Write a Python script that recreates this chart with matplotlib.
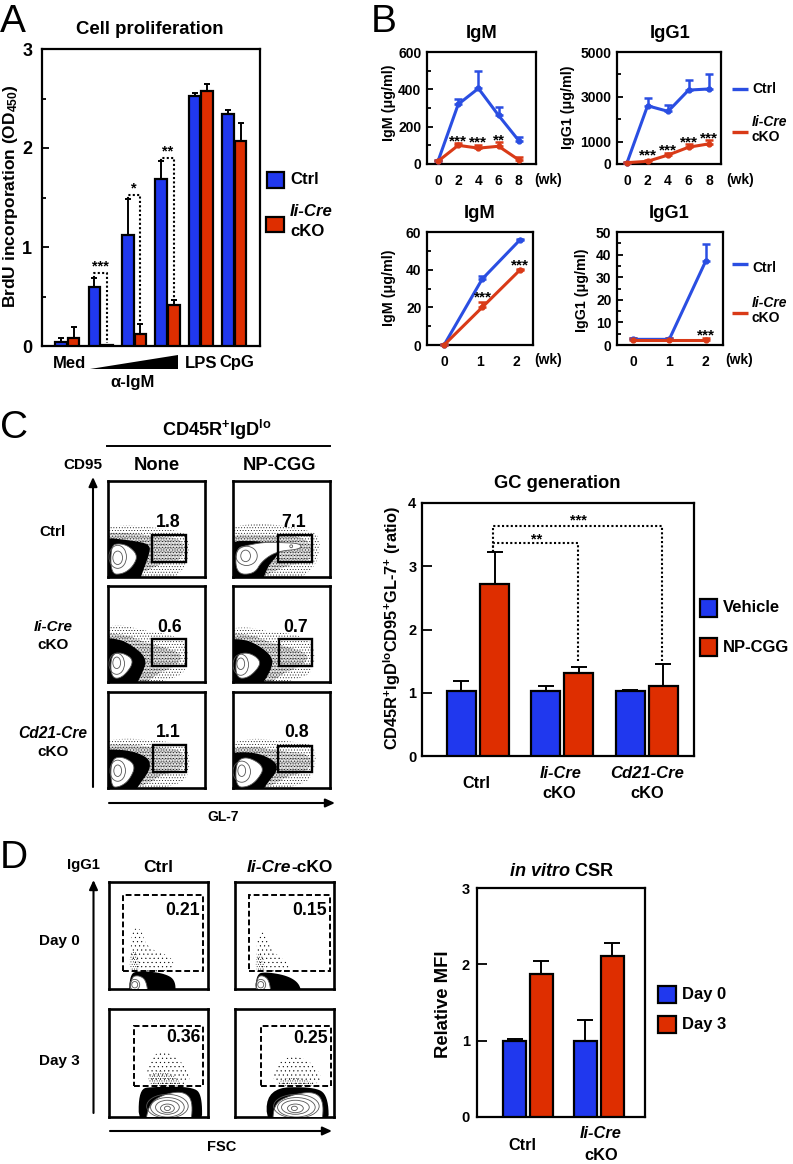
import matplotlib
matplotlib.use("Agg")
import numpy as np
import matplotlib.pyplot as plt
from matplotlib.patches import Polygon, Rectangle, Ellipse

W, H = 793, 1164
plt.rcParams['font.family'] = ['Liberation Sans', 'DejaVu Sans']
plt.rcParams['font.weight'] = 'bold'
plt.rcParams['mathtext.fontset'] = 'custom'
plt.rcParams['mathtext.rm'] = 'Liberation Sans:bold'
plt.rcParams['mathtext.it'] = 'Liberation Sans:italic:bold'
plt.rcParams['mathtext.bf'] = 'Liberation Sans:bold'
plt.rcParams['hatch.linewidth'] = 0.3

BLUE = '#2038ee'
RED = '#de2e00'
LBLUE = '#2a4ee2'
LRED = '#d93a17'

# panel A
a_groups = ['Med', 'a1', 'a2', 'a3', 'LPS', 'CpG']
a_ctrl = [0.04, 0.60, 1.12, 1.69, 2.53, 2.34]
a_ctrl_top = [0.08, 0.69, 1.48, 1.87, 2.56, 2.38]
a_cko = [0.08, 0.01, 0.12, 0.41, 2.58, 2.07]
a_cko_top = [0.19, 0.01, 0.22, 0.46, 2.65, 2.25]
a_sig = [(1, 0.74, 0.03, '***'), (2, 1.53, 0.22, '*'), (3, 1.90, 0.47, '**')]

# panel B
wk = [0, 2, 4, 6, 8]
igm_ctrl = [15, 320, 405, 260, 125]
igm_ctrl_top = [22, 350, 500, 305, 145]
igm_cko = [15, 100, 85, 95, 22]
igm_cko_top = [20, 110, 100, 120, 35]
igm_stars = [(2, 122, '***'), (4, 115, '***'), (6, 125, '**')]
igg_ctrl = [60, 2600, 2350, 3300, 3350]
igg_ctrl_top = [100, 2950, 2650, 3750, 4000]
igg_cko = [60, 120, 400, 750, 900]
igg_cko_top = [100, 180, 480, 900, 1050]
igg_stars = [(2, 400, '***'), (4, 600, '***'), (6, 950, '***'), (8, 1130, '***')]
wk2 = [0, 1.05, 2.1]
wk2b = [0, 1, 2]
igm2_ctrl = [0, 35, 56]
igm2_ctrl_top = [0.5, 36.5, 56.5]
igm2_cko = [0, 20, 40]
igm2_cko_top = [0.5, 23, 40.5]
igm2_stars = [(1.08, 25, '***'), (2.1, 42, '***')]
igg2_ctrl = [2.5, 2.5, 37]
igg2_ctrl_top = [3, 3, 44.5]
igg2_cko = [2, 2, 2]
igg2_cko_top = [3, 3, 3]
igg2_stars = [(2.0, 4, '***')]

# panel C bars
c_groups = [0, 1, 2]
c_veh = [1.02, 1.02, 1.02]
c_veh_top = [1.18, 1.10, 1.05]
c_np = [2.72, 1.32, 1.10]
c_np_top = [3.22, 1.40, 1.46]

# panel D bars
d_groups = [0, 1]
d_day0 = [0.99, 0.99]
d_day0_top = [1.02, 1.27]
d_day3 = [1.87, 2.11]
d_day3_top = [2.05, 2.28]

c_labels = ['1.8', '7.1', '0.6', '0.7', '1.1', '0.8']
c_label_xy = [(62, 57), (62, 57), (63, 57), (64, 57), (62, 58), (66, 58)]
c_gates = [(45, 80, 16, 44), (46, 81, 16, 44), (45, 80, 17, 45),
           (47, 81, 17, 45), (46, 80, 17, 45), (46, 81, 17, 44)]
c_sparse = [
    [(0, 50), (15, 54), (35, 53), (60, 50), (82, 46), (84, 25), (78, 6), (50, 0), (0, 0)],
    [(0, 50), (20, 56), (50, 54), (80, 48), (90, 42), (88, 18), (78, 4), (50, 0), (0, 0)],
    [(0, 56), (14, 60), (35, 54), (62, 50), (82, 42), (82, 14), (70, 3), (0, 0)],
    [(0, 54), (14, 58), (38, 52), (65, 50), (84, 40), (84, 14), (72, 3), (0, 0)],
    [(0, 48), (18, 52), (40, 50), (65, 48), (84, 42), (84, 14), (72, 2), (0, 0)],
    [(0, 44), (18, 52), (40, 50), (65, 48), (86, 44), (84, 14), (70, 2), (0, 0)],
]
c_dense = [
    [(0, 46), (25, 46), (50, 42), (78, 40), (78, 18), (55, 14), (40, 6), (0, 0)],
    [(0, 44), (30, 44), (80, 42), (82, 16), (55, 12), (38, 3), (0, 0)],
    [(0, 50), (18, 50), (35, 42), (60, 36), (78, 28), (70, 16), (48, 8), (30, 0), (0, 0)],
    [(0, 50), (18, 50), (35, 42), (60, 36), (80, 28), (70, 16), (48, 8), (30, 0), (0, 0)],
    [(0, 44), (20, 46), (50, 42), (78, 40), (78, 18), (55, 14), (42, 4), (0, 0)],
    [(0, 40), (20, 44), (50, 38), (80, 36), (80, 18), (55, 12), (42, 3), (0, 0)],
]
c_core = [
    [(0, 42), (25, 38), (44, 34), (42, 22), (38, 12), (30, 0), (0, 0)],
    [(0, 37), (30, 38), (46, 30), (46, 22), (36, 12), (28, 0), (0, 0)],
    [(0, 46), (12, 45), (28, 36), (40, 24), (36, 10), (24, 0), (0, 0)],
    [(0, 44), (12, 45), (30, 36), (42, 24), (38, 10), (24, 0), (0, 0)],
    [(0, 40), (20, 40), (42, 32), (44, 20), (34, 6), (22, 0), (0, 0)],
    [(0, 36), (22, 38), (44, 28), (46, 18), (36, 6), (24, 0), (0, 0)],
]
c_blob = [
    [(3, 33), (12, 35), (22, 32), (31, 22), (25, 10), (15, 3), (3, 3)],
    [(3, 30), (15, 33), (30, 36), (46, 36), (70, 35), (70, 29), (46, 27), (30, 17), (22, 3), (3, 3)],
    [(3, 29), (15, 31), (28, 22), (15, 4), (3, 4)],
    [(3, 28), (14, 31), (25, 26), (29, 18), (16, 4), (3, 4)],
    [(3, 30), (15, 33), (29, 24), (22, 8), (12, 1), (3, 1)],
    [(3, 28), (15, 33), (33, 22), (25, 8), (15, 1), (3, 1)],
]
c_rings = [
    [(10, 20, 10, 14), (10, 21, 18, 24)],
    [(13, 22, 10, 12), (14, 22, 22, 20), (60, 32, 3, 3)],
    [(9, 20, 8, 12), (9, 19, 16, 22)],
    [(8, 19, 8, 12), (8, 18, 16, 22)],
    [(10, 18, 8, 12), (10, 18, 16, 22)],
    [(9, 18, 8, 12), (9, 17, 18, 22)],
]

d_labels = ['0.21', '0.15', '0.36', '0.25']
d_label_xy = [(74, 73), (75, 73), (75, 74), (76, 73)]
d_gates = [(14, 95, 16.5, 88), (14, 96, 16.5, 88), (25, 95, 29, 84), (26, 97, 29, 84)]
d_sparse = [
    [(22, 16), (22, 55), (32, 58), (38, 38), (65, 30), (65, 16)],
    [(22, 16), (22, 52), (30, 54), (36, 36), (55, 24), (55, 16)],
    [(37, 29), (40, 55), (56, 62), (76, 50), (85, 29)],
    [(36, 29), (42, 50), (60, 58), (82, 48), (90, 29)],
]
d_dense = [
    [(21, 14), (21, 34), (28, 36), (32, 16)],
    [(21, 14), (21, 32), (28, 34), (31, 16)],
    [(38, 28), (42, 42), (62, 42), (76, 28)],
    [(40, 28), (48, 36), (70, 36), (84, 28)],
]
d_core = [
    [(20, 0), (21, 14), (30, 17), (55, 15), (68, 8), (66, 0)],
    [(21, 0), (21, 14), (32, 16), (55, 12), (67, 3), (66, 0)],
    [(30, 0), (30, 26), (45, 28), (85, 28), (94, 20), (94, 0)],
    [(32, 0), (32, 27), (80, 28), (94, 20), (95, 0)],
]
d_blob = [
    [(21, 0), (22, 11), (30, 13), (38, 8), (40, 0)],
    [(21, 0), (22, 11), (28, 13), (35, 8), (37, 0)],
    [(36, 0), (40, 12), (55, 21), (75, 24), (85, 15), (82, 0)],
    [(38, 0), (39, 12), (55, 20), (80, 24), (90, 14), (87, 0)],
]
d_rings = [
    [(26, 4, 6, 6), (26, 4, 10, 10)],
    [(26, 4, 6, 6), (26, 4, 10, 10)],
    [(59, 8, 6, 4), (59, 8, 14, 8), (59, 9, 24, 13), (59, 9, 34, 18), (59, 10, 42, 22)],
    [(60, 8, 6, 4), (61, 8, 16, 8), (61, 9, 28, 13), (62, 9, 38, 18), (62, 10, 46, 22)],
]


def px_axes(l, t, r, b):
    return fig.add_axes([l / W, 1 - b / H, (r - l) / W, (b - t) / H])


def frame(ax, lw=1.6):
    for s in ax.spines.values():
        s.set_linewidth(lw)


def T(x, y, s, size=11, ha='center', va='center', **kw):
    ov.text(x, y, s, fontsize=size, ha=ha, va=va, **kw)


def err(vals, tops):
    return [np.zeros(len(vals)), np.array(tops) - np.array(vals)]


def grouped_bars(ax, x, v1, t1, v2, t2, off, width, cap):
    x = np.array(x, dtype=float)
    for xs, v, t, col in [(x - off, v1, t1, BLUE), (x + off, v2, t2, RED)]:
        ax.bar(xs, v, width, color=col, edgecolor='k', linewidth=1.6, zorder=3)
        ax.errorbar(xs, v, yerr=err(v, t), fmt='none', ecolor='k', elinewidth=1.4,
                    capsize=cap, capthick=1.4, zorder=2)


def dotted(ax, xs, ys):
    ax.plot(xs, ys, color='k', lw=1.5, ls=(0, (1, 1.1)), zorder=4, clip_on=False)


def line_panel(box, xlim, ymax, major, minor, xs, xticks, c, ct, k, kt, stars):
    ax = px_axes(*box)
    frame(ax)
    for vals, tops, col in [(c, ct, LBLUE), (k, kt, LRED)]:
        ax.errorbar(xs, vals, yerr=err(vals, tops), color=col, lw=2.2, marker='o', ms=3.5,
                    elinewidth=1.8, capsize=3, capthick=1.8, clip_on=False, zorder=3)
    for x, y, s in stars:
        ax.text(x, y, s, ha='center', va='center', fontsize=11, zorder=5)
    ax.set_xlim(*xlim)
    ax.set_ylim(0, ymax)
    ax.set_xticks(xticks)
    ax.set_yticks(major)
    ax.set_yticks(minor, minor=True)
    ax.tick_params(axis='x', length=0, pad=7, labelsize=10)
    ax.tick_params(axis='y', direction='in', length=4, width=1.3, pad=4, labelsize=10)
    ax.tick_params(axis='y', which='minor', direction='in', length=3, width=1.3)
    return ax


def smooth(pts, n=3):
    # round the read-off outline by corner cutting, edge points pushed past the frame
    p = np.array(pts, dtype=float)
    p[p == 0] = -12
    for _ in range(n):
        q = np.roll(p, -1, axis=0)
        p = np.column_stack([0.75 * p + 0.25 * q, 0.25 * p + 0.75 * q]).reshape(-1, 2)
    return p


def flow_panel(box, sparse, dense, core, blob, rings, gate, label, label_xy, dashed=False,
               hatch_sparse='......', hatch_dense='............'):
    ax = px_axes(*box)
    frame(ax, 1.9)
    ax.set_xlim(0, 100)
    ax.set_ylim(0, 100)
    ax.set_xticks([])
    ax.set_yticks([])
    ax.add_patch(Polygon(smooth(sparse), closed=True, fill=False, hatch=hatch_sparse, edgecolor='k', lw=0, zorder=1))
    ax.add_patch(Polygon(smooth(dense), closed=True, fill=False, hatch=hatch_dense, edgecolor='k', lw=0, zorder=1))
    ax.add_patch(Polygon(smooth(core), closed=True, facecolor='k', edgecolor='none', zorder=2))
    ax.add_patch(Polygon(smooth(blob), closed=True, facecolor='w', edgecolor='#555555', lw=0.6, zorder=3))
    for cx, cy, w, h in rings:
        ax.add_patch(Ellipse((cx, cy), w, h, fill=False, edgecolor='#555555', lw=0.6, zorder=4))
    x0, x1, y0, y1 = gate
    ax.add_patch(Rectangle((x0, y0), x1 - x0, y1 - y0, fill=False, edgecolor='k', zorder=5,
                           lw=1.4 if dashed else 1.7, ls=(0, (3, 1.5)) if dashed else '-'))
    ax.text(label_xy[0], label_xy[1], label, ha='center', va='center', fontsize=12.7, zorder=6)


def swatch(x0, y0, x1, y1, col):
    ov.add_patch(Rectangle((x0, y0), x1 - x0, y1 - y0, facecolor=col, edgecolor='k', lw=1.6))


fig = plt.figure(figsize=(W / 100, H / 100), dpi=100)

# A
ax = px_axes(42, 49, 260, 346)
frame(ax)
xa = np.arange(len(a_groups))
grouped_bars(ax, xa, a_ctrl, a_ctrl_top, a_cko, a_cko_top, 0.19, 0.345, 2.4)
for g, top, low, s in a_sig:
    dotted(ax, [g - 0.19, g - 0.19, g + 0.19, g + 0.19], [a_ctrl_top[g], top, top, low])
    ax.text(g, top + 0.06, s, ha='center', va='center', fontsize=10.5, zorder=5)
ax.set_xlim(-0.76, 5.77)
ax.set_ylim(0, 3)
ax.set_xticks([])
ax.set_yticks([0, 1, 2, 3])
ax.set_yticks([0.5, 1.5, 2.5], minor=True)
ax.tick_params(axis='y', direction='in', length=5, width=1.3, pad=7, labelsize=13)
ax.tick_params(axis='y', which='minor', direction='in', length=3, width=1.3)

# B
line_panel((427, 52, 536, 164), (-1.09, 9.7), 600, [0, 200, 400, 600], [100, 300, 500], wk, wk,
           igm_ctrl, igm_ctrl_top, igm_cko, igm_cko_top, igm_stars)
line_panel((617, 52, 721, 164), (-0.98, 9.16), 5000, [0, 1000, 3000, 5000], [2000, 4000], wk, wk,
           igg_ctrl, igg_ctrl_top, igg_cko, igg_cko_top, igg_stars)
line_panel((427, 232, 533, 345), (-0.47, 2.45), 60, [0, 20, 40, 60], [10, 30, 50], wk2, wk2b,
           igm2_ctrl, igm2_ctrl_top, igm2_cko, igm2_cko_top, igm2_stars)
line_panel((617, 232, 723, 345), (-0.44, 2.48), 50, [0, 10, 20, 30, 40, 50], [5, 15, 25, 35, 45], wk2b, wk2b,
           igg2_ctrl, igg2_ctrl_top, igg2_cko, igg2_cko_top, igg2_stars)

# C flow
c_cols = [(108, 205), (233, 330)]
c_rows = [(481, 577), (586, 682), (692, 788)]
for i in range(6):
    cl, cr = c_cols[i % 2]
    rt, rb = c_rows[i // 2]
    flow_panel((cl, rt, cr, rb), c_sparse[i], c_dense[i], c_core[i], c_blob[i], c_rings[i],
               c_gates[i], c_labels[i], c_label_xy[i])

# C bars
ax = px_axes(422, 503, 694, 756)
frame(ax)
grouped_bars(ax, c_groups, c_veh, c_veh_top, c_np, c_np_top, 0.197, 0.343, 5.5)
dotted(ax, [0.18, 0.18, 1.18, 1.18], [3.22, 3.36, 3.36, 1.5])
dotted(ax, [0.18, 0.18, 2.18, 2.18], [3.22, 3.63, 3.63, 1.5])
ax.text(0.69, 3.42, '**', ha='center', va='center', fontsize=10.5, zorder=5)
ax.text(1.19, 3.72, '***', ha='center', va='center', fontsize=10.5, zorder=5)
ax.set_xlim(-0.663, 2.56)
ax.set_ylim(0, 4)
ax.set_xticks([])
ax.set_yticks([0, 1, 2, 3, 4])
ax.tick_params(axis='y', direction='in', length=7, width=1.3, pad=4, labelsize=10.5)

# D flow
d_cols = [(109, 208), (235, 334)]
d_rows = [(882, 989), (1009, 1117)]
for i in range(4):
    cl, cr = d_cols[i % 2]
    rt, rb = d_rows[i // 2]
    flow_panel((cl, rt, cr, rb), d_sparse[i], d_dense[i], d_core[i], d_blob[i], d_rings[i],
               d_gates[i], d_labels[i], d_label_xy[i], dashed=True,
               hatch_sparse='....', hatch_dense='.......')

# D bars
ax = px_axes(477, 888, 645, 1117)
frame(ax)
grouped_bars(ax, d_groups, d_day0, d_day0_top, d_day3, d_day3_top, 0.19, 0.33, 5.5)
ax.set_xlim(-0.722, 1.654)
ax.set_ylim(0, 3)
ax.set_xticks([])
ax.set_yticks([0, 1, 2, 3])
ax.tick_params(axis='y', direction='in', length=7, width=1.3, pad=5, labelsize=10.5)

# overlay in pixel coordinates for all loose text
ov = fig.add_axes([0, 0, 1, 1], zorder=10)
ov.set_xlim(0, W)
ov.set_ylim(H, 0)
ov.axis('off')

for s, x, y in [('A', 13, 22), ('B', 384, 22), ('C', 14, 428), ('D', 14, 858)]:
    T(x, y, s, size=28, weight='normal')

T(150, 30, 'Cell proliferation', 13.4)
T(11, 196, r'BrdU incorporation (OD$_{450}$)', 12.5, rotation=90)
T(69, 363, 'Med', 12)
T(201, 363, 'LPS', 12)
T(237, 363, 'CpG', 12)
T(133, 383, '\u03b1-IgM', 12)
ov.add_patch(Polygon([(90, 369), (178, 355), (178, 369)], closed=True, facecolor='k', edgecolor='none'))
swatch(267, 172, 284, 188, BLUE)
swatch(266, 217, 284, 232, RED)
T(290, 180, 'Ctrl', 12.1, ha='left')
T(290, 212, 'Ii-Cre', 12.1, ha='left', style='italic')
T(290, 231, 'cKO', 12.1, ha='left')

T(482, 33, 'IgM', 13.2)
T(670, 33, 'IgG1', 13.2)
T(480, 214, 'IgM', 13.2)
T(669, 214, 'IgG1', 13.2)
T(389, 103, 'IgM (\u03bcg/ml)', 10.3, rotation=90)
T(568, 107, 'IgG1 (\u03bcg/ml)', 10.3, rotation=90)
T(389, 288, 'IgM (\u03bcg/ml)', 10.3, rotation=90)
T(582, 290, 'IgG1 (\u03bcg/ml)', 10.3, rotation=90)
T(548, 180, '(wk)', 10)
T(740, 180, '(wk)', 10)
T(548, 360, '(wk)', 10)
T(739, 360, '(wk)', 10)
for y_blue, y_red, y_ctrl, y_ii, y_cko in [(89, 132, 89, 122, 137), (264, 313, 268, 303, 318)]:
    ov.plot([732, 748], [y_blue, y_blue], color=LBLUE, lw=2.4, solid_capstyle='butt')
    ov.plot([732, 748], [y_red, y_red], color=LRED, lw=2.4, solid_capstyle='butt')
    T(752, y_ctrl, 'Ctrl', 10, ha='left')
    T(752, y_ii, 'Ii-Cre', 10, ha='left', style='italic')
    T(752, y_cko, 'cKO', 10, ha='left')

T(217, 430, r'CD45R$^{+}$IgD$^{\mathrm{lo}}$', 13.1)
ov.plot([107, 330], [446, 446], color='k', lw=1.4)
T(157, 465, 'None', 13.2)
T(280, 465, 'NP-CGG', 13.2)
T(83, 465, 'CD95', 11)
T(223, 817, 'GL-7', 10)
T(53, 532, 'Ctrl', 11)
T(53, 627, 'Ii-Cre', 11, style='italic')
T(53, 645, 'cKO', 11)
T(53, 733, 'Cd21-Cre', 11.2, style='italic')
T(53, 752, 'cKO', 11)
arrow = dict(arrowstyle='-|>,head_length=0.55,head_width=0.25', color='k', lw=1.5, shrinkA=0, shrinkB=0)
ov.annotate('', xy=(93, 477), xytext=(93, 787), arrowprops=arrow)
ov.annotate('', xy=(335, 803), xytext=(109, 803), arrowprops=arrow)

T(557, 483, 'GC generation', 13.2)
T(392, 628, r'CD45R$^{+}$IgD$^{\mathrm{lo}}$CD95$^{+}$GL-7$^{+}$ (ratio)', 11.8, rotation=90)
T(476, 783, 'Ctrl', 11.7)
T(561, 773, 'Ii-Cre', 11.8, style='italic')
T(559, 794, 'cKO', 11.8)
T(647, 773, 'Cd21-Cre', 12, style='italic')
T(647, 794, 'cKO', 11.8)
swatch(700, 599, 717, 617, BLUE)
swatch(700, 638, 717, 656, RED)
T(723, 608, 'Vehicle', 12, ha='left')
T(723, 647, 'NP-CGG', 12, ha='left')

T(158, 868, 'Ctrl', 12.5)
T(291, 868, 'Ii-Cre', 12.5, ha='right', style='italic')
T(291, 868, '-cKO', 12.5, ha='left')
T(83, 865, 'IgG1', 10.7)
T(59, 941, 'Day 0', 11)
T(59, 1061, 'Day 3', 11)
T(222, 1147, 'FSC', 10.5)
ov.annotate('', xy=(93.5, 880), xytext=(93.5, 1113), arrowprops=arrow)
ov.annotate('', xy=(332, 1131), xytext=(110, 1131), arrowprops=arrow)

T(562, 872, r'$\mathit{in\ vitro}$ CSR', 13.1)
T(443, 1004, 'Relative MFI', 13.3, rotation=90)
T(522, 1145, 'Ctrl', 11.7)
T(601, 1134, 'Ii-Cre', 11.8, style='italic')
T(601, 1155, 'cKO', 11.8)
swatch(658, 986, 676, 1003, BLUE)
swatch(658, 1016, 676, 1033, RED)
T(682, 994, 'Day 0', 11.9, ha='left')
T(682, 1025, 'Day 3', 11.9, ha='left')

fig.savefig('out.png', dpi=100)
